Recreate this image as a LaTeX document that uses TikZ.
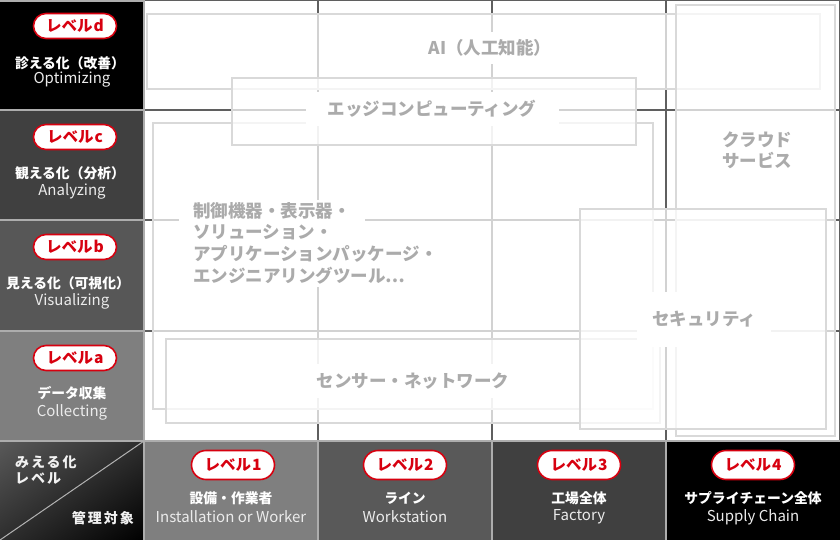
\documentclass[tikz,border=0pt]{standalone}
\usepackage{fontspec}
\setmainfont{Noto Sans CJK JP}
\newfontfamily\spacedjp{Noto Sans CJK JP}[LetterSpace=14]
\usetikzlibrary{shapes.misc,shadings}
\definecolor{lvred}{HTML}{D7000F}
\definecolor{areatxtc}{HTML}{ABABAB}
\definecolor{arealine}{HTML}{D9D9D9}
\definecolor{gridc}{HTML}{5F5F5F}
\definecolor{sepc}{HTML}{ADADAD}
\definecolor{cellc}{HTML}{404040}
\definecolor{cellb}{HTML}{575757}
\definecolor{cella}{HTML}{7F7F7F}
\definecolor{cellone}{HTML}{7F7F7F}
\definecolor{celltwo}{HTML}{595959}
\definecolor{cellthree}{HTML}{404040}
\tikzset{
  badge/.style={rounded rectangle, draw=lvred, line width=1.6pt, fill=white, text=lvred,
    minimum width=83pt, minimum height=25pt, inner sep=0pt,
    font=\bfseries\fontsize{15.5}{15.5}\selectfont},
  badgeb/.style={badge, minimum height=29pt},
  lvjp/.style={text=white, inner sep=0pt, font=\bfseries\fontsize{13.8}{14}\selectfont},
  lven/.style={text=white!92!black, inner sep=0pt, font=\fontsize{15}{15}\selectfont},
  cornertxt/.style={text=white!95!black, inner sep=0pt, font=\spacedjp\bfseries\fontsize{14}{14}\selectfont},
  area/.style={draw=arealine, line width=1.6pt, fill=white, fill opacity=0.72},
  areatxt/.style={text=areatxtc, fill=white, font=\bfseries\fontsize{17.5}{21.5}\selectfont},
  gridl/.style={draw=gridc, line width=1.3pt},
  sepl/.style={draw=sepc, line width=1.6pt},
}
\begin{document}
\begin{tikzpicture}[x=1pt,y=-1pt]
\useasboundingbox (0,0) rectangle (840,540);
\fill[white] (0,0) rectangle (840,540);
% grid of the upper area
\draw[gridl] (144,0.7) -- (840,0.7);
\foreach \yy in {110,220,331} {\draw[gridl] (144,\yy) -- (840,\yy);}
\foreach \xx in {318,492,666} {\draw[gridl] (\xx,0) -- (\xx,441);}
\draw[gridl] (839.3,0) -- (839.3,441);
% translucent areas
\draw[area] (147,14) rectangle (820,89);
\draw[area] (153,123) rectangle (653,409);
\draw[area] (166,339) rectangle (660,423);
\draw[area] (676,5) rectangle (835,436);
\draw[area] (580,209) rectangle (826,429);
\draw[area] (232,78) rectangle (636,145);
% area texts
\node[areatxt, inner xsep=12pt, inner ysep=8pt] (ai) at (490,48) {AI（人工知能）};
\node[areatxt, minimum width=253pt, minimum height=34pt] (edge) at (432,109) {エッジコンピューティング};
\node[areatxt, align=center, inner sep=6pt] (cloud) at (757,150.5) {クラウド\\サービス};
\node[areatxt, anchor=west, inner xsep=14pt, inner ysep=3pt] (ctlone) at (179,211) {制御機器・表示器・};
\node[areatxt, anchor=west, inner xsep=14pt, inner ysep=3pt] (ctltwo) at (179,232.5) {ソリューション・};
\node[areatxt, anchor=west, inner xsep=14pt, inner ysep=3pt] (ctlthree) at (179,254) {アプリケーションパッケージ・};
\node[areatxt, anchor=west, inner xsep=14pt, inner ysep=3pt] (ctlfour) at (179,275.5) {エンジニアリングツール…};
\node[areatxt, minimum width=210pt, minimum height=34pt] (sensor) at (413,381) {センサー・ネットワーク};
\node[areatxt, minimum width=134pt, minimum height=55pt] (security) at (704,319.5) {セキュリティ};
% left column cells
\fill[black] (0,0) rectangle (144,110);
\fill[cellc] (0,110) rectangle (144,220);
\fill[cellb] (0,220) rectangle (144,331);
\fill[cella] (0,331) rectangle (144,441);
% bottom row cells
\shade[upper left=black!65, upper right=black!82, lower left=black!82, lower right=black] (0,441) rectangle (144,540);
\fill[cellone] (144,441) rectangle (318,540);
\fill[celltwo] (318,441) rectangle (492,540);
\fill[cellthree] (492,441) rectangle (666,540);
\fill[black] (666,441) rectangle (840,540);
% separators
\draw[sepl] (0,0.8) -- (144,0.8);
\foreach \yy in {110,220,331} {\draw[sepl] (0,\yy) -- (144,\yy);}
\draw[sepl] (0,441) -- (840,441);
\draw[sepl] (144,0) -- (144,540);
\foreach \xx in {318,492,666} {\draw[sepl] (\xx,441) -- (\xx,540);}
\draw[draw=white!70!black, line width=1pt] (0,540) -- (144,441);
% left column texts
\node[badge] (lvd) at (75,26) {レベル\hspace{1pt}d};
\node[lvjp] (lvdjp) at (70,63) {診える化（改善）};
\node[lven] (lvden) at (72,80) {Optimizing};
\node[badge] (lvc) at (75,137) {レベル\hspace{1pt}c};
\node[lvjp] (lvcjp) at (70,173) {観える化（分析）};
\node[lven] (lvcen) at (72,191) {Analyzing};
\node[badge] (lvb) at (75,247) {レベル\hspace{1pt}b};
\node[lvjp] (lvbjp) at (68,283) {見える化（可視化）};
\node[lven] (lvben) at (72,301) {Visualizing};
\node[badge] (lva) at (75,358) {レベル\hspace{1pt}a};
\node[lvjp] (lvajp) at (72,393) {データ収集};
\node[lven] (lvaen) at (72,412) {Collecting};
% corner cell texts
\node[cornertxt, anchor=west] (mieru) at (15,462) {みえる化};
\node[cornertxt, anchor=west] (level) at (15,479) {レベル};
\node[cornertxt, anchor=east] (kanri) at (134,518) {管理対象};
% bottom texts
\node[badgeb] (lvone) at (233,465) {レベル\hspace{1pt}1};
\node[lvjp] (lvonejp) at (231,498) {設備・作業者};
\node[lven] (lvoneen) at (231,517) {Installation or Worker};
\node[badgeb] (lvtwo) at (405,465) {レベル\hspace{1pt}2};
\node[lvjp] (lvtwojp) at (405,498) {ライン};
\node[lven] (lvtwoen) at (405,517) {Workstation};
\node[badgeb] (lvthree) at (579,465) {レベル\hspace{1pt}3};
\node[lvjp] (lvthreejp) at (579,498) {工場全体};
\node[lven] (lvthreeen) at (579,517) {Factory};
\node[badgeb] (lvfour) at (753,465) {レベル\hspace{1pt}4};
\node[lvjp] (lvfourjp) at (753,498) {サプライチェーン全体};
\node[lven] (lvfouren) at (753,517) {Supply Chain};
\end{tikzpicture}
\end{document}
